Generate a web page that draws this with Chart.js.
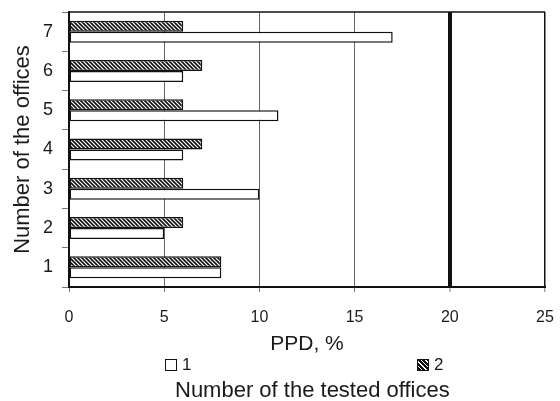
<!DOCTYPE html>
<html>
<head>
<meta charset="utf-8">
<script src="https://cdn.jsdelivr.net/npm/chart.js@4.4.1/dist/chart.umd.min.js"></script>
<style>
    html, body { margin: 0; padding: 0; background: #fff; }
    #wrap {
        position: relative; width: 560px; height: 401px;
        font-family: "Liberation Sans", Arial, sans-serif; color: #1a1a1a;
    }
    #chart { position: absolute; left: 0; top: 0; }
    .legend-item {
        position: absolute; top: 359px; height: 12px;
        display: flex; align-items: center; font-size: 17px; line-height: 12px;
    }
    .box { width: 12px; height: 12px; box-sizing: border-box; border: 1.5px solid #111; margin-right: 5px; }
    .box.plain { background: #fff; }
    .box.hatched { background: repeating-linear-gradient(45deg, #111 0 2.2px, #fff 2.2px 3.2px); }
    #caption {
        position: absolute; left: 175px; top: 379px;
        font-size: 22px; line-height: 22px; white-space: nowrap;
    }
</style>
</head>
<body>
<div id="wrap">
    <canvas id="chart" width="560" height="401"></canvas>
    <div class="legend-item" style="left:165px"><span class="box plain"></span>1</div>
    <div class="legend-item" style="left:417px"><span class="box hatched"></span>2</div>
    <div id="caption">Number of the tested offices</div>
</div>

<script>
// offices listed top to bottom, as on the y axis
const offices = ['7', '6', '5', '4', '3', '2', '1'];
const series1 = [17, 6, 11, 6, 10, 5, 8];
const series2 = [6, 7, 6, 7, 6, 6, 8];
const xTicks = [0, 5, 10, 15, 20, 25];

const INK = '#1a1a1a';

Chart.defaults.font.family = '"Liberation Sans", Arial, sans-serif';
Chart.defaults.color = INK;

/* ---------- hatch fill ---------- */

function makeHatch() {
    const c = document.createElement('canvas');
    c.width = c.height = 4;
    const g = c.getContext('2d');
    g.fillStyle = '#fff';
    g.fillRect(0, 0, 4, 4);
    g.strokeStyle = '#111';
    g.lineWidth = 1.6;
    g.beginPath();
    g.moveTo(-1, -1); g.lineTo(5, 5);
    g.moveTo(-1, 3); g.lineTo(1, 5);
    g.moveTo(3, -1); g.lineTo(5, 1);
    g.stroke();
    return g.createPattern(c, 'repeat');
}

// top edge of the plot frame
const frameTop = {
    id: 'frameTop',
    afterDatasetsDraw(chart) {
        const { ctx, chartArea: a } = chart;
        ctx.save();
        ctx.strokeStyle = '#111';
        ctx.lineWidth = 1.5;
        ctx.beginPath();
        ctx.moveTo(a.left, a.top);
        ctx.lineTo(a.right, a.top);
        ctx.stroke();
        ctx.restore();
    }
};

const gridColor = v => v === 0 ? 'rgba(0,0,0,0)' : (v >= 20 ? '#111' : '#666');
const gridWidth = v => v === 20 ? 4 : (v === 25 ? 1.5 : 1);

const barStyle = {
    borderColor: '#111',
    borderWidth: 1.5,
    borderSkipped: false,
    categoryPercentage: 0.56,
    barPercentage: 1
};

new Chart(document.getElementById('chart'), {
    type: 'bar',
    data: {
        labels: offices,
        datasets: [
            { label: '2', data: series2, backgroundColor: makeHatch(), ...barStyle },
            { label: '1', data: series1, backgroundColor: '#fff', ...barStyle }
        ]
    },
    options: {
        indexAxis: 'y',
        responsive: false,
        animation: false,
        layout: { padding: { top: 12, right: 15, bottom: 44, left: 0 } },
        plugins: {
            legend: { display: false },
            tooltip: { enabled: false }
        },
        scales: {
            x: {
                min: xTicks[0],
                max: xTicks[xTicks.length - 1],
                afterBuildTicks: s => { s.ticks = xTicks.map(v => ({ value: v })); },
                ticks: { padding: 16, font: { size: 16 }, color: INK },
                grid: {
                    color: c => gridColor(c.tick.value),
                    lineWidth: c => gridWidth(c.tick.value),
                    tickColor: '#777',
                    tickWidth: 1,
                    tickLength: 5
                },
                border: { color: '#111', width: 2 },
                title: { display: true, text: 'PPD, %', font: { size: 21 }, color: INK, padding: 0 },
                afterFit: s => { s.height = 70; s.paddingLeft = 0; s.paddingRight = 0; }
            },
            y: {
                ticks: { padding: 9, font: { size: 18 }, color: INK },
                grid: { drawOnChartArea: false, tickLength: 7, color: '#777' },
                border: { color: '#111', width: 2 },
                title: {
                    display: true, text: 'Number of the offices',
                    font: { size: 22 }, color: INK, padding: { top: 10, bottom: 0 }
                },
                afterFit: s => { s.width = 69; s.paddingTop = 0; s.paddingBottom = 0; }
            }
        }
    },
    plugins: [frameTop]
});
</script>
</body>
</html>
